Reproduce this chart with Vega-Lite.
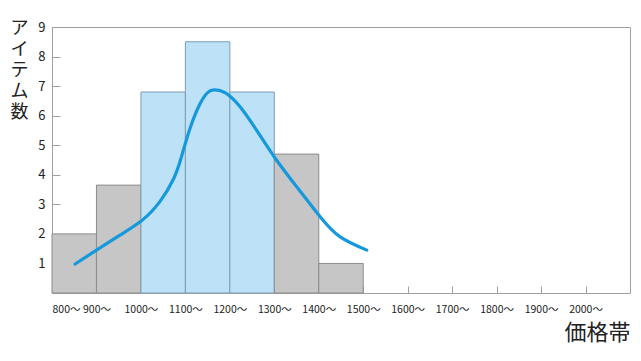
{
  "$schema": "https://vega.github.io/schema/vega-lite/v6.json",
  "width": 578,
  "height": 266,
  "autosize": {"type": "none"},
  "padding": {"left": 52, "top": 27, "right": 11, "bottom": 68},
  "background": "white",
  "config": {
    "view": {"stroke": "#a0a0a0", "strokeWidth": 1},
    "font": "Liberation Sans Narrow, Noto Sans CJK JP",
    "axis": {"grid": false, "domainColor": "#a0a0a0", "tickColor": "#a0a0a0", "labelColor": "#222", "titleColor": "#222", "labelFont": "Liberation Sans Narrow, Noto Sans CJK JP", "titleFont": "Noto Sans CJK JP", "titleFontWeight": "normal", "labelOverlap": false}
  },
  "datasets": {
    "bars": [
      {"start": 800, "end": 900, "count": 2.0, "group": "gray"},
      {"start": 900, "end": 1000, "count": 3.65, "group": "gray"},
      {"start": 1000, "end": 1100, "count": 6.8, "group": "blue"},
      {"start": 1100, "end": 1200, "count": 8.5, "group": "blue"},
      {"start": 1200, "end": 1300, "count": 6.8, "group": "blue"},
      {"start": 1300, "end": 1400, "count": 4.7, "group": "gray"},
      {"start": 1400, "end": 1500, "count": 1.0, "group": "gray"}
    ],
    "curve": [
      {"start": 852, "count": 0.98},
      {"start": 900, "count": 1.45},
      {"start": 953, "count": 1.96},
      {"start": 1002, "count": 2.45},
      {"start": 1043, "count": 3.1},
      {"start": 1073, "count": 3.85},
      {"start": 1090, "count": 4.55},
      {"start": 1110, "count": 5.55},
      {"start": 1133, "count": 6.4},
      {"start": 1150, "count": 6.78},
      {"start": 1165, "count": 6.87},
      {"start": 1190, "count": 6.77},
      {"start": 1223, "count": 6.3},
      {"start": 1260, "count": 5.51},
      {"start": 1302, "count": 4.56},
      {"start": 1350, "count": 3.6},
      {"start": 1403, "count": 2.58},
      {"start": 1448, "count": 1.9},
      {"start": 1508, "count": 1.45}
    ]
  },
  "encoding": {
    "x": {
      "field": "start", "type": "quantitative",
      "scale": {"domain": [800, 2100], "nice": false, "zero": false},
      "axis": {
        "values": [800, 900, 1000, 1100, 1200, 1300, 1400, 1500, 1600, 1700, 1800, 1900, 2000],
        "labelExpr": "datum.value + '〜'",
        "labelOverlap": false,
        "tickSize": -7,
        "labelPadding": 18,
        "labelFontSize": 10.5,
        "labelDx": 5,
        "title": "価格帯",
        "titleFontSize": 22,
        "titleAlign": "right",
        "titleAnchor": "end",
        "titleX": 578,
        "titleY": 29,
        "titleBaseline": "top"
      }
    },
    "y": {
      "field": "count", "type": "quantitative",
      "scale": {"domain": [0, 9], "nice": false},
      "axis": {
        "values": [1, 2, 3, 4, 5, 6, 7, 8, 9],
        "labelOverlap": false,
        "tickSize": -8,
        "labelPadding": 15,
        "labelFontSize": 13,
        "title": ["ア", "イ", "テ", "ム", "数"],
        "titleAngle": 0,
        "titleFontSize": 18,
        "titleLineHeight": 21,
        "titleX": -33,
        "titleY": -8,
        "titleAlign": "center",
        "titleBaseline": "top"
      }
    }
  },
  "layer": [
    {
      "data": {"name": "bars"},
      "mark": {"type": "rect", "strokeWidth": 1},
      "encoding": {
        "x2": {"field": "end"},
        "y2": {"datum": 0},
        "fill": {
          "field": "group", "type": "nominal",
          "scale": {"domain": ["gray", "blue"], "range": ["#c6c6c6", "#bde2f7"]},
          "legend": null
        },
        "stroke": {
          "field": "group", "type": "nominal",
          "scale": {"domain": ["gray", "blue"], "range": ["#8c8c8c", "#7d9cb6"]},
          "legend": null
        }
      }
    },
    {
      "data": {"name": "curve"},
      "mark": {"type": "line", "interpolate": "natural", "color": "#1699dc", "strokeWidth": 3.2, "strokeCap": "round"},
      "encoding": {}
    }
  ]
}
